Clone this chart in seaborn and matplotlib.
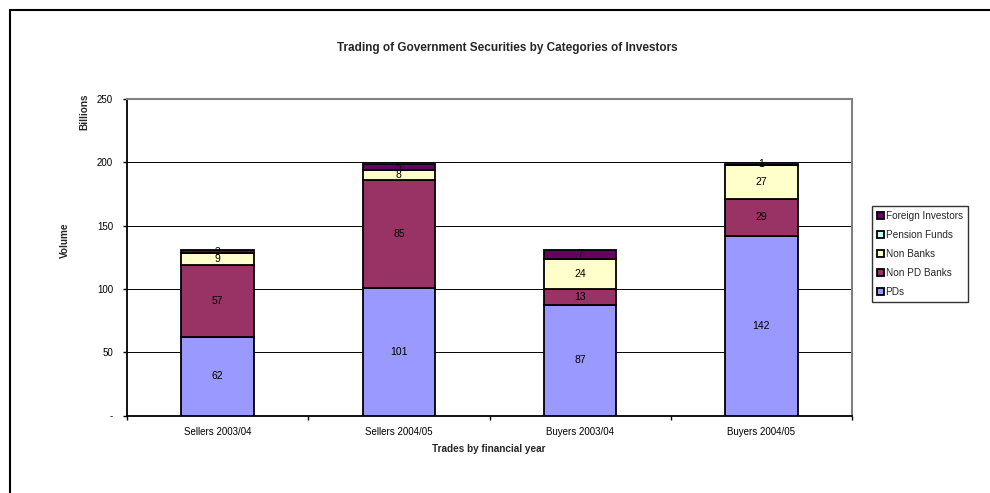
import matplotlib
matplotlib.use("Agg")
import matplotlib.pyplot as plt
import matplotlib.patches as mpatches
from matplotlib.lines import Line2D
from matplotlib.ticker import FuncFormatter, FixedLocator
import seaborn as sns
import numpy as np

categories = ["Sellers 2003/04", "Sellers 2004/05", "Buyers 2003/04", "Buyers 2004/05"]
series_names = ["PDs", "Non PD Banks", "Non Banks", "Pension Funds", "Foreign Investors"]
pds = [62, 101, 87, 142]
non_pd_banks = [57, 85, 13, 29]
non_banks = [9, 8, 24, 27]
pension_funds = [0, 0, 0, 0]
foreign_investors = [3, 5, 7, 1]
series_colors = ["#9999FF", "#993366", "#FFFFCC", "#CCFFFF", "#660066"]

sns.set_theme(style="white")
plt.rcParams["font.family"] = ["Liberation Sans", "DejaVu Sans"]

W, H = 990, 493
fig = plt.figure(figsize=(W / 100, H / 100), dpi=100)
ax = fig.add_axes([127 / W, 1 - 415.5 / H, 725 / W, 316.5 / H])

series = [pds, non_pd_banks, non_banks, pension_funds, foreign_investors]
bottom = np.zeros(len(categories))
for name, vals, col in zip(series_names, series, series_colors):
    vals = np.asarray(vals, dtype=float)
    sns.barplot(x=categories, y=vals, bottom=bottom, color=col, width=0.4,
                edgecolor="black", linewidth=1.3, ax=ax, zorder=3,
                saturation=1)
    for i, v in enumerate(vals):
        if v > 0:
            ax.text(i, bottom[i] + v / 2, f"{v:g}", ha="center", va="center",
                    fontsize=7.5, color="black", zorder=5)
    bottom = bottom + vals

ax.set_xlim(-0.5, 3.5)
ax.set_ylim(0, 250)
ax.set_yticks([0, 50, 100, 150, 200, 250])
ax.yaxis.set_major_formatter(FuncFormatter(lambda v, p: "-" if v == 0 else f"{v:g}"))
ax.yaxis.grid(True, color="black", linewidth=0.7)
ax.set_axisbelow(True)

ax.xaxis.set_minor_locator(FixedLocator([-0.5, 0.5, 1.5, 2.5, 3.5]))
ax.tick_params(axis="x", which="major", length=0, pad=8, labelsize=7, colors="black")
ax.tick_params(axis="x", which="minor", length=3, width=1, color="black", bottom=True)
ax.tick_params(axis="y", which="major", length=3, width=1, color="black", left=True,
               pad=7, labelsize=7, labelcolor="black")

for s in ["left", "bottom"]:
    ax.spines[s].set_color("black")
    ax.spines[s].set_linewidth(1.3)
for s in ["top", "right"]:
    ax.spines[s].set_color("#808080")
    ax.spines[s].set_linewidth(1.5)
ax.set_xlabel("")
ax.set_ylabel("")

fig.text(507 / W, 1 - 48 / H, "Trading of Government Securities by Categories of Investors",
         ha="center", va="center", fontsize=8.5, fontweight="bold")
fig.text(489 / W, 1 - 449 / H, "Trades by financial year", ha="center", va="center",
         fontsize=7.2, fontweight="bold")
fig.text(65 / W, 1 - 240 / H, "Volume", ha="center", va="center", rotation=90,
         fontsize=7.2, fontweight="bold")
fig.text(84 / W, 1 - 112 / H, "Billions", ha="center", va="center", rotation=90,
         fontsize=7.2, fontweight="bold")

handles = [mpatches.Patch(facecolor=c, edgecolor="black", linewidth=1.3, label=n)
           for n, c in zip(series_names, series_colors)][::-1]
leg = fig.legend(handles=handles, loc="upper left",
                 bbox_to_anchor=(872 / W, 1 - 206 / H), fontsize=7.2,
                 frameon=True, fancybox=False, shadow=False, borderaxespad=0,
                 handlelength=0.65, handleheight=0.65, handletextpad=0.2,
                 labelspacing=0.9, borderpad=0.5)
leg.get_frame().set_edgecolor("black")
leg.get_frame().set_linewidth(1.0)

# outer chart frame
fig.add_artist(Line2D([9.5 / W, 9.5 / W], [0, 1 - 10 / H], color="black", linewidth=1.5,
                      transform=fig.transFigure))
fig.add_artist(Line2D([9.5 / W, 1], [1 - 10 / H, 1 - 10 / H], color="black", linewidth=1.5,
                      transform=fig.transFigure))

fig.savefig("out.png", dpi=100)
